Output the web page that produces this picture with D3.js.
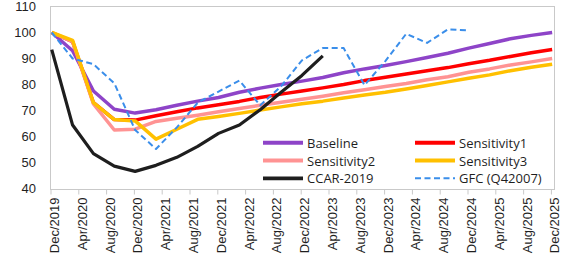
<!DOCTYPE html>
<html>
<head>
<meta charset="utf-8">
<script src="https://cdn.jsdelivr.net/npm/d3@7"></script>
<style>
  html, body { margin: 0; padding: 0; background: #fff; }
  svg { display: block; font-family: "Open Sans", "Noto Sans", sans-serif; }
</style>
</head>
<body>
<svg id="chart" width="563" height="259"></svg>
<script>
// Quarterly observation dates (Dec/2019 .. Dec/2025)
const quarters = ["Dec/2019","Mar/2020","Jun/2020","Sep/2020","Dec/2020","Mar/2021","Jun/2021","Sep/2021",
  "Dec/2021","Mar/2022","Jun/2022","Sep/2022","Dec/2022","Mar/2023","Jun/2023","Sep/2023","Dec/2023",
  "Mar/2024","Jun/2024","Sep/2024","Dec/2024","Mar/2025","Jun/2025","Sep/2025","Dec/2025"];

// Axis tick labels (every 4 months)
const tickLabels = ["Dec/2019","Apr/2020","Aug/2020","Dec/2020","Apr/2021","Aug/2021","Dec/2021",
  "Apr/2022","Aug/2022","Dec/2022","Apr/2023","Aug/2023","Dec/2023","Apr/2024","Aug/2024",
  "Dec/2024","Apr/2025","Aug/2025","Dec/2025"];
const yTicks = [40, 50, 60, 70, 80, 90, 100, 110];

// Series values
const baseline = [100,93,77.5,70.5,69,70.3,72,73.6,75,77,78.6,80,81.3,82.7,84.5,86,87.3,88.8,90.4,92,94,95.8,97.6,98.9,100];
const sensitivity1 = [100,96.5,73,66.5,66.3,68,69.5,71,72.2,73.5,75,76.3,77.5,78.7,80,81.5,82.8,84,85.3,86.5,88,89.3,90.8,92.2,93.5];
const sensitivity2 = [100,96.5,72.5,62.5,62.8,65.8,67,68.2,69.5,70.8,72,73.2,74.3,75.5,76.8,78,79.2,80.4,81.8,83,84.7,86,87.5,88.7,90];
const sensitivity3 = [100,97,73,66.5,66,59,62.8,66.6,67.7,68.9,70.2,71.4,72.6,73.6,74.8,76,77,78.3,79.6,81,82.4,83.7,85.3,86.6,87.8];
const ccar2019 = [93.4,64.4,53.4,48.6,46.6,48.9,52,56.2,61.2,64.4,70.3,77,83.5,91];
const gfc = [100,90,87.8,80.5,62.5,55.2,63.5,73,77.3,81.5,72,79.3,89.3,94,94,79.7,89,99.5,96,101.2,100.8];

const seriesNames = ["Baseline","Sensitivity1","Sensitivity2","Sensitivity3","CCAR-2019","GFC (Q42007)"];
const seriesData = [baseline, sensitivity1, sensitivity2, sensitivity3, ccar2019, gfc];
const seriesColors = ["#8E44C8","#FF0000","#FF9393","#FFC000","#1E1E1E","#3A8EEA"];
const seriesWidths = [3.5, 3.5, 3.5, 3.5, 3.2, 2];
const seriesDash = [null, null, null, null, null, "6,3.5"];

// ---- layout
const svg = d3.select("#chart");
const plot = {left: 50, right: 555, top: 6, bottom: 189};

// months since Dec/2019 (domain padded to end of last category)
const monthsPerQuarter = 3, monthsPerTick = 4, dataOffset = 0.25;
const x = d3.scaleLinear().domain([0, 72.66]).range([plot.left, plot.right]);
const y = d3.scaleLinear().domain([40, 110]).range([188.5, 6.5]);

// plot area border
svg.append("rect")
  .attr("x", plot.left + 0.5).attr("y", plot.top + 0.5)
  .attr("width", plot.right - plot.left - 1).attr("height", plot.bottom - plot.top)
  .attr("fill", "none").attr("stroke", "#c9c9c9").attr("stroke-width", 1);

// x axis ticks + labels
const xTickVals = tickLabels.map((d, i) => i * monthsPerTick);
const xAxis = d3.axisBottom(x).tickValues(xTickVals).tickSize(5).tickFormat((d, i) => tickLabels[i]);
const gx = svg.append("g").attr("transform", `translate(0,${plot.bottom + 0.5})`).call(xAxis);
gx.select(".domain").remove();
gx.selectAll(".tick line").attr("stroke", "#c9c9c9").attr("transform", "translate(0.5,0)");
gx.selectAll(".tick text")
  .attr("font-size", 13).attr("fill", "#1f1f1f")
  .attr("text-anchor", "end")
  .attr("dy", null).attr("y", null)
  .attr("dominant-baseline", "central")
  .attr("transform", "translate(4,8) rotate(-90)");

// y axis labels
const yAxis = d3.axisLeft(y).tickValues(yTicks).tickSize(0).tickPadding(0);
const gy = svg.append("g").attr("transform", `translate(36,0)`).call(yAxis);
gy.select(".domain").remove();
gy.selectAll(".tick text").attr("font-size", 13).attr("fill", "#1f1f1f").attr("x", 0);

// lines
const line = d3.line()
  .x((d, i) => x(i * monthsPerQuarter + dataOffset))
  .y(d => y(d));

seriesData.forEach((data, s) => {
  svg.append("path")
    .datum(data)
    .attr("d", line)
    .attr("fill", "none")
    .attr("stroke", seriesColors[s])
    .attr("stroke-width", seriesWidths[s])
    .attr("stroke-linejoin", "round")
    .attr("stroke-dasharray", seriesDash[s]);
});

// legend
const legCols = [263, 415];
const legRows = [142.7, 160.5, 178.3];
const legend = svg.append("g");
seriesNames.forEach((name, s) => {
  const cx = legCols[s % 2], cy = legRows[Math.floor(s / 2)];
  legend.append("line")
    .attr("x1", cx).attr("x2", cx + 40).attr("y1", cy).attr("y2", cy)
    .attr("stroke", seriesColors[s]).attr("stroke-width", seriesWidths[s] + (s === 5 ? 0 : 0.5))
    .attr("stroke-dasharray", seriesDash[s]);
  legend.append("text")
    .attr("x", cx + 44).attr("y", cy)
    .attr("dominant-baseline", "central")
    .attr("font-size", 13).attr("fill", "#1f1f1f")
    .text(name);
});
</script>
</body>
</html>
